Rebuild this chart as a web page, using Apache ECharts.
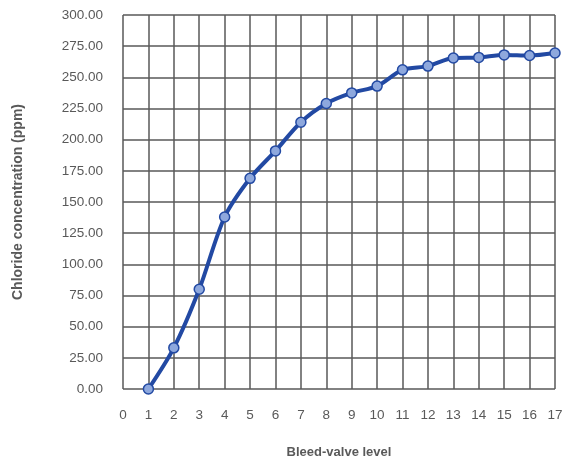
<!DOCTYPE html>
<html><head><meta charset="utf-8">
<script src="https://cdn.jsdelivr.net/npm/echarts@6/dist/echarts.min.js"></script>
<style>html,body{margin:0;padding:0;background:#fff}#c{width:563px;height:461px}</style>
</head><body><div id="c"></div>
<script>
const levels = [1,2,3,4,5,6,7,8,9,10,11,12,13,14,15,16,17];
const chloride = [0,33,80,138,169,191,214,229,237.5,243,256,259,265.5,266,268,267.5,269.5];
const xTitle = 'Bleed-valve level';
const yTitle = 'Chloride concentration (ppm)';
const font = 'Liberation Sans, Arial, sans-serif';
const chart = echarts.init(document.getElementById('c'));
chart.setOption({
  animation:false,
  backgroundColor:'#fff',
  grid:{left:123,right:8,top:15,bottom:72,containLabel:false,outerBoundsMode:'none'},
  xAxis:{type:'value',min:0,max:17,interval:1,
    name:xTitle,nameLocation:'middle',nameGap:57,
    nameTextStyle:{fontFamily:font,fontSize:13,fontWeight:'bold',color:'#595959'},
    axisLine:{show:false},axisTick:{show:false},
    axisLabel:{margin:19,fontFamily:font,fontSize:13.5,color:'#595959'},
    splitLine:{show:true,lineStyle:{color:'#595959',width:1.5}}},
  yAxis:{type:'value',min:0,max:300,interval:25,
    name:yTitle,nameLocation:'middle',nameGap:98,nameRotate:90,
    nameTextStyle:{fontFamily:font,fontSize:14,fontWeight:'bold',color:'#595959'},
    axisLine:{show:false},axisTick:{show:false},
    axisLabel:{margin:20,fontFamily:font,fontSize:13.5,color:'#595959',formatter:v=>v.toFixed(2)},
    splitLine:{show:true,lineStyle:{color:'#595959',width:1.5}}},
  series:[{type:'line',smooth:0.3,data:levels.map((l,i)=>[l,chloride[i]]),
    lineStyle:{color:'#2249A3',width:4},
    symbol:'circle',symbolSize:10,
    itemStyle:{color:'#8EA8DD',borderColor:'#2249A3',borderWidth:1.5}}]
});
</script></body></html>
